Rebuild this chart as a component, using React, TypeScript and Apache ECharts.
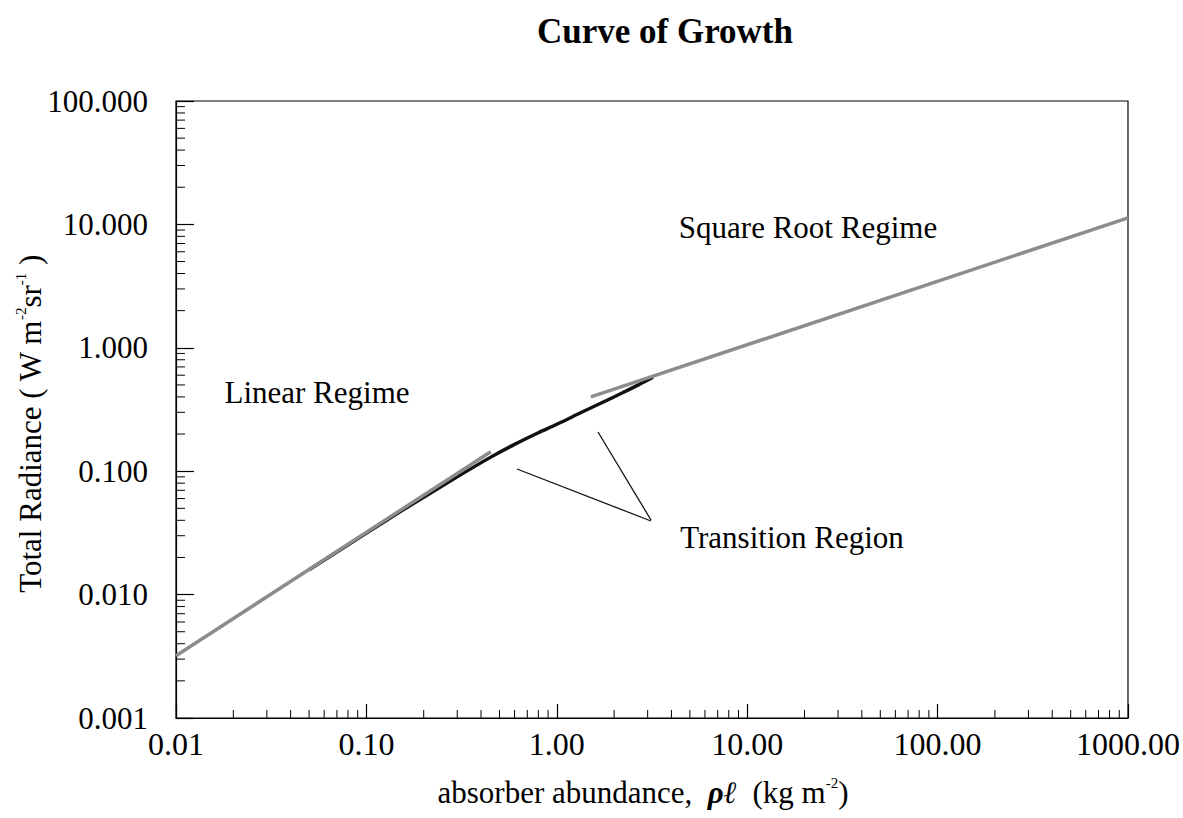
import React, { useEffect, useRef } from "react";
import * as echarts from "echarts";

// Curve of growth (black)
const growthX = [0.05, 0.1, 0.15, 0.2, 0.3, 0.45, 0.6, 0.8, 1.0, 1.3, 1.7, 2.2, 2.7, 3.2];
const growthY = [0.0159, 0.0315, 0.0468, 0.0615, 0.09, 0.13, 0.165, 0.205, 0.24, 0.292, 0.355, 0.43, 0.503, 0.577];

// Linear regime asymptote (grey)
const linearX = [0.01, 0.45];
const linearY = [0.0032, 0.144];

// Square-root regime asymptote (grey)
const sqrtX = [1.51, 1000];
const sqrtY = [0.4, 11.3];

// Axis ranges and tick decades
const xMin = 0.01;
const xMax = 1000;
const yMin = 0.001;
const yMax = 100;
const xDecades = [0.01, 0.1, 1, 10, 100];
const yDecades = [0.001, 0.01, 0.1, 1, 10];
const minorMultipliers = [2, 3, 4, 5, 6, 7, 8, 9];

const FONT = "'Liberation Serif', 'Times New Roman', serif";

export default function App() {
  const ref = useRef<HTMLDivElement>(null);

  useEffect(() => {
    document.body.style.margin = "0";
    const chart = echarts.init(ref.current!, null, { renderer: "svg" });

    const xMinor = xDecades.flatMap((d) => minorMultipliers.map((m) => [d * m, yMin]));
    const yMinor = yDecades.flatMap((d) => minorMultipliers.map((m) => [xMin, d * m]));

    const option: any = {
      animation: false,
      backgroundColor: "#fff",
      grid: {
        left: 176,
        right: 53,
        top: 101,
        bottom: 100,
        show: true,
        borderColor: "#000",
        borderWidth: 1.2,
      },
      xAxis: {
        type: "log",
        logBase: 10,
        min: xMin,
        max: xMax,
        axisLine: { show: true, lineStyle: { color: "#000", width: 1.2 } },
        axisTick: { show: true, inside: true, length: 14, lineStyle: { color: "#000", width: 1.2 } },
        splitLine: { show: false },
        axisLabel: {
          color: "#000",
          fontFamily: FONT,
          fontSize: 32,
          margin: 10,
          formatter: (v: number) => v.toFixed(2),
        },
      },
      yAxis: {
        type: "log",
        logBase: 10,
        min: yMin,
        max: yMax,
        axisLine: { show: true, lineStyle: { color: "#000", width: 1.2 } },
        axisTick: { show: true, inside: true, length: 18, lineStyle: { color: "#000", width: 1.2 } },
        splitLine: { show: false },
        axisLabel: {
          color: "#000",
          fontFamily: FONT,
          fontSize: 31,
          margin: 28,
          formatter: (v: number) => v.toFixed(3),
        },
      },
      series: [
        {
          name: "Curve of growth",
          type: "line",
          data: growthX.map((x, i) => [x, growthY[i]]),
          showSymbol: false,
          smooth: 0.3,
          lineStyle: { color: "#111", width: 3.4 },
          z: 2,
        },
        {
          name: "Linear regime",
          type: "line",
          data: linearX.map((x, i) => [x, linearY[i]]),
          showSymbol: false,
          lineStyle: { color: "#8c8c8c", width: 3.5 },
          z: 3,
        },
        {
          name: "Square root regime",
          type: "line",
          data: sqrtX.map((x, i) => [x, sqrtY[i]]),
          showSymbol: false,
          lineStyle: { color: "#8c8c8c", width: 3.5 },
          z: 3,
        },
        {
          name: "x minor ticks",
          type: "custom",
          data: xMinor,
          silent: true,
          renderItem: (params: any, api: any) => {
            const p = api.coord([api.value(0), api.value(1)]);
            return {
              type: "line",
              shape: { x1: p[0], y1: p[1], x2: p[0], y2: p[1] - 8 },
              style: { stroke: "#000", lineWidth: 1 },
            };
          },
          z: 4,
        },
        {
          name: "y minor ticks",
          type: "custom",
          data: yMinor,
          silent: true,
          renderItem: (params: any, api: any) => {
            const p = api.coord([api.value(0), api.value(1)]);
            return {
              type: "line",
              shape: { x1: p[0], y1: p[1], x2: p[0] + 9, y2: p[1] },
              style: { stroke: "#000", lineWidth: 1 },
            };
          },
          z: 4,
        },
      ],
      graphic: [
        {
          type: "text",
          x: 665,
          y: 31,
          style: {
            text: "Curve of Growth",
            font: `bold 35px ${FONT}`,
            fill: "#000",
            align: "center",
            verticalAlign: "middle",
          },
        },
        {
          type: "text",
          x: 317,
          y: 392,
          style: {
            text: "Linear Regime",
            font: `31px ${FONT}`,
            fill: "#000",
            align: "center",
            verticalAlign: "middle",
          },
        },
        {
          type: "text",
          x: 808,
          y: 227,
          style: {
            text: "Square Root Regime",
            font: `31px ${FONT}`,
            fill: "#000",
            align: "center",
            verticalAlign: "middle",
          },
        },
        {
          type: "text",
          x: 792,
          y: 537,
          style: {
            text: "Transition Region",
            font: `31px ${FONT}`,
            fill: "#000",
            align: "center",
            verticalAlign: "middle",
          },
        },
        {
          type: "line",
          shape: { x1: 517, y1: 469, x2: 651, y2: 521 },
          style: { stroke: "#111", lineWidth: 1.3 },
        },
        {
          type: "line",
          shape: { x1: 598, y1: 432, x2: 651, y2: 520 },
          style: { stroke: "#111", lineWidth: 1.3 },
        },
        {
          type: "text",
          x: 30,
          y: 424,
          rotation: Math.PI / 2,
          style: {
            text: "{a|Total Radiance ( W m}{s|-2}{a|sr}{s|-1}{a| )}",
            fill: "#000",
            align: "center",
            verticalAlign: "middle",
            rich: {
              a: { fontFamily: FONT, fontSize: 31, fill: "#000" },
              s: { fontFamily: FONT, fontSize: 15, fill: "#000", verticalAlign: "top", lineHeight: 34 },
            },
          },
        },
        {
          type: "text",
          x: 643,
          y: 792,
          style: {
            text: "{a|absorber abundance,  }{g|ρℓ}{a|  (kg m}{s|-2}{a|)}",
            fill: "#000",
            align: "center",
            verticalAlign: "middle",
            rich: {
              a: { fontFamily: FONT, fontSize: 31, fill: "#000" },
              g: { fontFamily: FONT, fontSize: 31, fontStyle: "italic", fontWeight: "bold", fill: "#000" },
              s: { fontFamily: FONT, fontSize: 15, fill: "#000", verticalAlign: "top", lineHeight: 34 },
            },
          },
        },
      ],
    };

    chart.setOption(option);
    return () => chart.dispose();
  }, []);

  return (
    <div
      ref={ref}
      style={{ position: "absolute", left: 0, top: 0, width: 1183, height: 818, background: "#fff" }}
    />
  );
}
